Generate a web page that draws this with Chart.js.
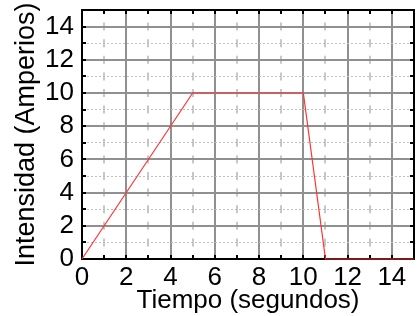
<!DOCTYPE html>
<html>
<head>
<meta charset="utf-8">
<script src="https://cdn.jsdelivr.net/npm/chart.js@4/dist/chart.umd.min.js"></script>
<style>
  html, body { margin: 0; padding: 0; background: #fff; }
  #c { display: block; }
</style>
</head>
<body>
<canvas id="c" width="417" height="316"></canvas>
<script>
// Datos
const tiempo = [0, 5, 10, 11, 15];
const intensidad = [0, 10, 10, 0, 0];
const xMin = 0, xMax = 15;
const yMin = 0, yMax = 15;
const tituloX = 'Tiempo (segundos)';
const tituloY = 'Intensidad (Amperios)';

const fuente = 'Liberation Sans, Arial, sans-serif';
const esPar = v => Math.round(v) % 2 === 0;
// las etiquetas vacias (impares) casi sin tamaño para no mover el area
const fuenteTick = c => ({ family: fuente, size: (c.tick && esPar(c.tick.value)) ? 26 : 1 });

// marcas hacia dentro y marco completo
const marco = {
  id: 'marco',
  beforeDatasetsDraw(chart) {
    const { ctx, chartArea: a, scales: { x, y } } = chart;
    ctx.save();
    ctx.strokeStyle = '#000';
    ctx.lineWidth = 2;
    ctx.beginPath();
    for (let v = xMin + 1; v < xMax; v++) {
      const px = Math.round(x.getPixelForValue(v));
      ctx.moveTo(px, a.bottom); ctx.lineTo(px, a.bottom - 4);
      ctx.moveTo(px, a.top); ctx.lineTo(px, a.top + 4);
    }
    for (let v = yMin + 1; v < yMax; v++) {
      const py = Math.round(y.getPixelForValue(v));
      ctx.moveTo(a.left, py); ctx.lineTo(a.left + 4, py);
      ctx.moveTo(a.right, py); ctx.lineTo(a.right - 4, py);
    }
    ctx.stroke();
    ctx.strokeRect(a.left, a.top, a.right - a.left, a.bottom - a.top);
    ctx.restore();
  }
};

const paso = chart => {
  const y = chart.scales.y;
  return Math.abs(y.getPixelForValue(0) - y.getPixelForValue(1));
};

new Chart(document.getElementById('c'), {
  type: 'line',
  data: {
    datasets: [{
      data: tiempo.map((t, i) => ({ x: t, y: intensidad[i] })),
      borderColor: 'rgb(255,50,50)',
      borderWidth: 1.2,
      pointRadius: 0,
      tension: 0,
      clip: false
    }]
  },
  options: {
    responsive: false,
    animation: false,
    layout: { padding: { top: 10, right: 2, left: 0, bottom: 0 } },
    plugins: { legend: { display: false }, tooltip: { enabled: false } },
    scales: {
      x: {
        type: 'linear',
        min: xMin, max: xMax,
        afterFit(s) { s.height = 57; },
        ticks: {
          stepSize: 1, autoSkip: false, maxRotation: 0, padding: 3,
          color: '#000', font: fuenteTick,
          callback: v => esPar(v) ? v : ''
        },
        grid: {
          drawTicks: false,
          color: c => esPar(c.tick.value) ? '#909090' : '#c8c8c8',
          lineWidth: 2
        },
        border: {
          color: '#000', width: 2,
          dash: c => (c.tick && !esPar(c.tick.value)) ? [8, paso(c.chart) - 8] : [],
          dashOffset: 4
        },
        title: {
          display: true, text: tituloX, color: '#000',
          font: { family: fuente, size: 26 }, padding: { top: 0, bottom: 0 }
        }
      },
      y: {
        type: 'linear',
        min: yMin, max: yMax,
        afterFit(s) { s.width = 82; },
        ticks: {
          stepSize: 1, autoSkip: false, padding: 8,
          color: '#000', font: fuenteTick,
          callback: v => esPar(v) ? v : ''
        },
        grid: {
          drawTicks: false,
          color: c => esPar(c.tick.value) ? '#909090' : '#c0c0c0',
          lineWidth: c => esPar(c.tick.value) ? 2 : 1
        },
        border: {
          color: '#000', width: 2,
          dash: c => (c.tick && !esPar(c.tick.value)) ? [2, 2] : []
        },
        title: {
          display: true, text: tituloY, color: '#000',
          font: { family: fuente, size: 27 }, padding: { top: 10, bottom: 0 }
        }
      }
    }
  },
  plugins: [marco]
});
</script>
</body>
</html>
